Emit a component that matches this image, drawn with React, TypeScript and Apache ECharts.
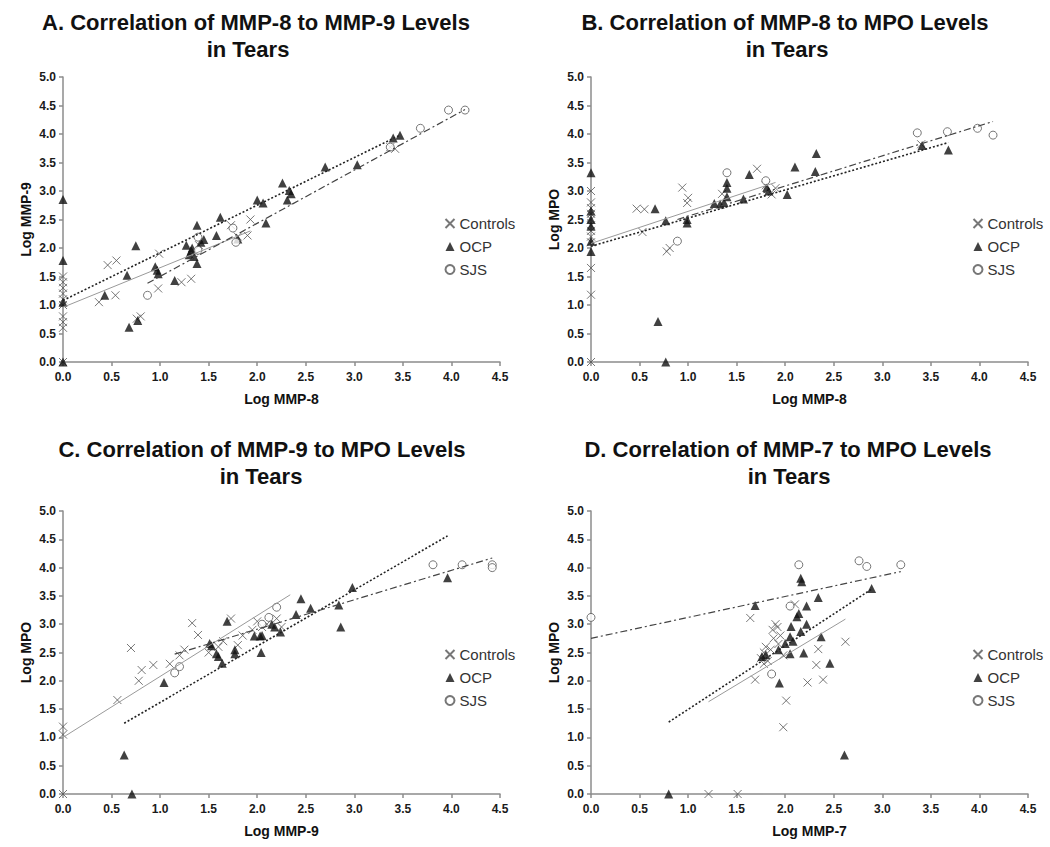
import React, { useEffect, useRef } from "react";
import * as echarts from "echarts";

const groupNames = ["Controls", "OCP", "SJS"];
const titleLine1 = [
  "A. Correlation of MMP-8 to MMP-9 Levels",
  "B. Correlation of MMP-8 to MPO Levels",
  "C. Correlation of MMP-9 to MPO Levels",
  "D. Correlation of MMP-7 to MPO Levels",
];
const titleLine2 = ["in Tears", "in Tears", "in Tears", "in Tears"];
const xNames = ["Log MMP-8", "Log MMP-8", "Log MMP-9", "Log MMP-7"];
const yNames = ["Log MMP-9", "Log MPO", "Log MPO", "Log MPO"];

// Panel A: MMP-8 (x) vs MMP-9 (y)
const aControls = [[0,0],[0,0.6],[0,0.7],[0,0.8],[0,1.0],[0,1.1],[0,1.2],[0,1.3],[0,1.4],[0,1.5],[0.37,1.05],[0.46,1.7],[0.55,1.78],[0.54,1.17],[0.76,0.76],[0.8,0.8],[0.98,1.29],[0.99,1.9],[1.22,1.4],[1.32,1.46],[1.73,2.4],[1.9,2.22],[1.93,2.5],[1.8,2.2],[1.4,2.05],[1.35,1.95],[3.37,3.77],[3.42,3.74]];
const aOCP = [[0,2.85],[0,1.78],[0,1.05],[0,0],[0.43,1.17],[0.66,1.52],[0.75,2.04],[0.68,0.61],[0.77,0.73],[0.95,1.67],[0.97,1.61],[0.98,1.55],[1.15,1.43],[1.27,2.05],[1.3,1.88],[1.32,1.95],[1.33,2.0],[1.35,1.85],[1.38,2.4],[1.38,1.73],[1.42,2.1],[1.45,2.15],[1.58,2.22],[1.62,2.54],[1.8,2.16],[2.0,2.84],[2.06,2.79],[2.09,2.44],[2.26,3.14],[2.31,2.84],[2.33,3.01],[2.35,2.95],[2.7,3.42],[3.03,3.46],[3.4,3.93],[3.47,3.98]];
const aSJS = [[0.87,1.17],[1.39,2.19],[1.39,1.96],[1.78,2.1],[1.75,2.35],[3.37,3.77],[3.68,4.1],[3.97,4.42],[4.14,4.42]];
const aTrendControls = [[0,0.96],[1.93,2.3]];
const aTrendOCP = [[0,1.08],[3.47,3.98]];
const aTrendSJS = [[0.87,1.38],[4.14,4.43]];

// Panel B: MMP-8 (x) vs MPO (y)
const bControls = [[0,0],[0,1.18],[0,1.65],[0,2.1],[0,2.2],[0,2.3],[0,2.4],[0,2.5],[0,2.6],[0,2.7],[0,2.8],[0,3.0],[0.47,2.69],[0.55,2.68],[0.53,2.28],[0.78,1.94],[0.81,2.0],[0.94,3.06],[1.0,2.88],[0.99,2.79],[1.71,3.39],[1.86,2.94],[1.9,3.05],[1.35,2.95],[1.8,3.1],[3.4,3.82]];
const bOCP = [[0,3.32],[0,2.65],[0,2.5],[0,2.38],[0,2.12],[0,1.94],[0.66,2.69],[0.77,2.48],[0.69,0.71],[0.77,0],[0.99,2.5],[0.99,2.44],[1.27,2.78],[1.33,2.77],[1.37,2.8],[1.4,3.15],[1.4,3.05],[1.4,2.9],[1.57,2.86],[1.63,3.29],[1.81,3.06],[1.83,3.0],[2.02,2.94],[2.1,3.42],[2.32,3.66],[2.31,3.34],[3.41,3.8],[3.68,3.72]];
const bSJS = [[0.89,2.12],[1.4,3.32],[1.8,3.18],[3.36,4.02],[3.67,4.04],[3.98,4.1],[4.14,3.98]];
const bTrendControls = [[0,2.08],[1.9,3.15]];
const bTrendOCP = [[0,2.03],[3.68,3.85]];
const bTrendSJS = [[0.89,2.5],[4.14,4.22]];

// Panel C: MMP-9 (x) vs MPO (y)
const cControls = [[0,0],[0,1.19],[0,1.05],[0.56,1.66],[0.7,2.58],[0.78,2.0],[0.81,2.19],[0.93,2.28],[1.1,2.3],[1.2,2.45],[1.25,2.55],[1.33,3.02],[1.39,2.81],[1.5,2.5],[1.6,2.6],[1.73,3.1],[1.8,2.63],[1.85,2.8],[1.95,2.9],[2.0,3.05],[2.05,2.95],[2.1,3.0],[2.2,3.1],[2.25,2.95],[1.65,2.7]];
const cOCP = [[0.63,0.69],[0.71,0],[1.04,1.97],[1.51,2.66],[1.53,2.62],[1.58,2.48],[1.6,2.43],[1.64,2.31],[1.69,3.05],[1.77,2.48],[1.77,2.55],[1.97,2.79],[2.03,2.79],[2.04,2.5],[2.05,2.8],[2.15,3.0],[2.18,2.95],[2.24,2.86],[2.4,3.17],[2.45,3.45],[2.55,3.28],[2.84,3.34],[2.86,2.95],[2.98,3.65],[3.96,3.82]];
const cSJS = [[1.15,2.14],[1.2,2.25],[2.12,3.12],[2.2,3.3],[2.05,3.0],[3.81,4.05],[4.11,4.05],[4.42,4.05],[4.42,4.0]];
const cTrendControls = [[0,1.0],[2.34,3.52]];
const cTrendOCP = [[0.63,1.25],[3.96,4.56]];
const cTrendSJS = [[1.15,2.47],[4.42,4.17]];

// Panel D: MMP-7 (x) vs MPO (y)
const dControls = [[1.21,0],[1.51,0],[1.64,3.11],[1.69,2.02],[1.98,1.18],[2.01,1.65],[2.23,1.97],[2.39,2.02],[2.32,2.28],[2.34,2.56],[2.62,2.69],[1.75,2.4],[1.78,2.5],[1.8,2.6],[1.82,2.35],[1.85,2.55],[1.87,2.9],[1.9,3.0],[1.92,2.95],[1.88,2.75],[1.95,2.8],[1.93,2.65],[1.78,2.3],[2.1,3.35],[1.98,2.45]];
const dOCP = [[0.8,0],[1.69,3.33],[2.16,3.81],[2.17,3.75],[2.34,3.47],[2.22,3.32],[2.14,3.19],[2.12,3.13],[2.06,2.96],[2.22,3.0],[2.16,2.87],[2.05,2.78],[2.0,2.66],[2.05,2.48],[2.19,2.49],[1.93,2.55],[1.76,2.43],[1.8,2.46],[1.94,1.96],[2.37,2.78],[2.46,2.31],[2.61,0.69],[2.89,3.63],[2.08,2.7]];
const dSJS = [[0,3.12],[1.86,2.12],[2.05,3.32],[2.14,4.05],[2.76,4.12],[2.84,4.02],[3.19,4.05]];
const dTrendControls = [[1.21,1.63],[2.62,3.09]];
const dTrendOCP = [[0.8,1.27],[2.89,3.62]];
const dTrendSJS = [[0,2.75],[3.19,3.93]];

const panelPoints = [
  [aControls, aOCP, aSJS],
  [bControls, bOCP, bSJS],
  [cControls, cOCP, cSJS],
  [dControls, dOCP, dSJS],
];
const panelTrends = [
  [aTrendControls, aTrendOCP, aTrendSJS],
  [bTrendControls, bTrendOCP, bTrendSJS],
  [cTrendControls, cTrendOCP, cTrendSJS],
  [dTrendControls, dTrendOCP, dTrendSJS],
];

const FONT = '"Liberation Sans", Arial, sans-serif';

export default function App() {
  const ref = useRef<HTMLDivElement>(null);
  useEffect(() => {
    if (!ref.current) return;
    const chart = echarts.init(ref.current, null, { renderer: "svg" });
    const grids = [
      { left: 63, top: 77, width: 437, height: 285 },
      { left: 591, top: 77, width: 437, height: 285 },
      { left: 63, top: 511, width: 437, height: 283 },
      { left: 591, top: 511, width: 437, height: 283 },
    ];
    const legendPos = [
      { left: 438, top: 211 },
      { left: 966, top: 211 },
      { left: 438, top: 642 },
      { left: 966, top: 642 },
    ];
    const titlePos = [
      [256, 22, 248, 49],
      [785, 22, 787, 49],
      [262, 449, 261, 476],
      [788, 449, 789, 476],
    ];
    const axisCommon = {
      min: 0,
      interval: 0.5,
      axisLine: { show: true, onZero: false, lineStyle: { color: "#8c8c8c", width: 1.5 } },
      axisTick: { show: true, inside: false, length: 4, lineStyle: { color: "#8c8c8c", width: 1.5 } },
      splitLine: { show: false },
      axisLabel: {
        color: "#1a1a1a",
        fontSize: 12,
        fontWeight: "bold",
        fontFamily: FONT,
        formatter: (v: number) => v.toFixed(1),
      },
      nameLocation: "middle",
      nameTextStyle: { color: "#111", fontSize: 14, fontWeight: "bold", fontFamily: FONT },
    };
    const xAxes = grids.map((_, i) => ({
      ...axisCommon,
      type: "value",
      gridIndex: i,
      max: 4.5,
      name: xNames[i],
      nameGap: 30,
      axisLabel: { ...axisCommon.axisLabel, margin: 9 },
    }));
    const yAxes = grids.map((_, i) => ({
      ...axisCommon,
      type: "value",
      gridIndex: i,
      max: 5,
      name: yNames[i],
      nameGap: 30,
      axisLabel: { ...axisCommon.axisLabel, margin: 7 },
    }));
    const symbolFor = ["path://M0,0L10,10M10,0L0,10", "triangle", "circle"];
    const sizeFor = [8, 9, 8];
    const styleFor = [
      { color: "none", borderColor: "#555", borderWidth: 1 },
      { color: "#111", borderColor: "#111", borderWidth: 0 },
      { color: "#fff", borderColor: "#555", borderWidth: 1 },
    ];
    const lineStyleFor = [
      { color: "#9a9a9a", width: 1, type: "solid" },
      { color: "#222", width: 1.6, type: [2, 2] },
      { color: "#444", width: 1.2, type: [7, 3, 2, 3] },
    ];
    const series: any[] = [];
    for (let p = 0; p < 4; p++) {
      for (let g = 0; g < 3; g++) {
        series.push({
          type: "scatter",
          name: groupNames[g],
          xAxisIndex: p,
          yAxisIndex: p,
          data: panelPoints[p][g],
          symbol: symbolFor[g],
          symbolSize: sizeFor[g],
          itemStyle: styleFor[g],
          clip: false,
          z: 3 + g,
        });
      }
      for (let g = 0; g < 3; g++) {
        series.push({
          type: "line",
          name: groupNames[g] + " trend",
          xAxisIndex: p,
          yAxisIndex: p,
          data: panelTrends[p][g],
          symbol: "none",
          silent: true,
          lineStyle: lineStyleFor[g],
          z: 6,
        });
      }
    }
    const graphic: any[] = [];
    for (let p = 0; p < 4; p++) {
      const [x1, y1, x2, y2] = titlePos[p];
      graphic.push({
        type: "text",
        x: x1,
        y: y1,
        style: {
          text: titleLine1[p],
          fontSize: 22,
          fontWeight: "bold",
          fontFamily: FONT,
          fill: "#111",
          align: "center",
          verticalAlign: "middle",
        },
      });
      graphic.push({
        type: "text",
        x: x2,
        y: y2,
        style: {
          text: titleLine2[p],
          fontSize: 22,
          fontWeight: "bold",
          fontFamily: FONT,
          fill: "#111",
          align: "center",
          verticalAlign: "middle",
        },
      });
    }
    chart.setOption({
      animation: false,
      backgroundColor: "#fff",
      grid: grids,
      xAxis: xAxes,
      yAxis: yAxes,
      legend: legendPos.map((pos) => ({
        ...pos,
        orient: "vertical",
        data: groupNames,
        itemWidth: 9,
        itemHeight: 9,
        itemGap: 8,
        selectedMode: false,
        textStyle: { color: "#333", fontSize: 15, fontFamily: FONT },
      })),
      graphic,
      series,
    });
    return () => chart.dispose();
  }, []);
  return (
    <div
      ref={ref}
      style={{ position: "absolute", left: 0, top: 0, width: 1050, height: 847 }}
    />
  );
}
